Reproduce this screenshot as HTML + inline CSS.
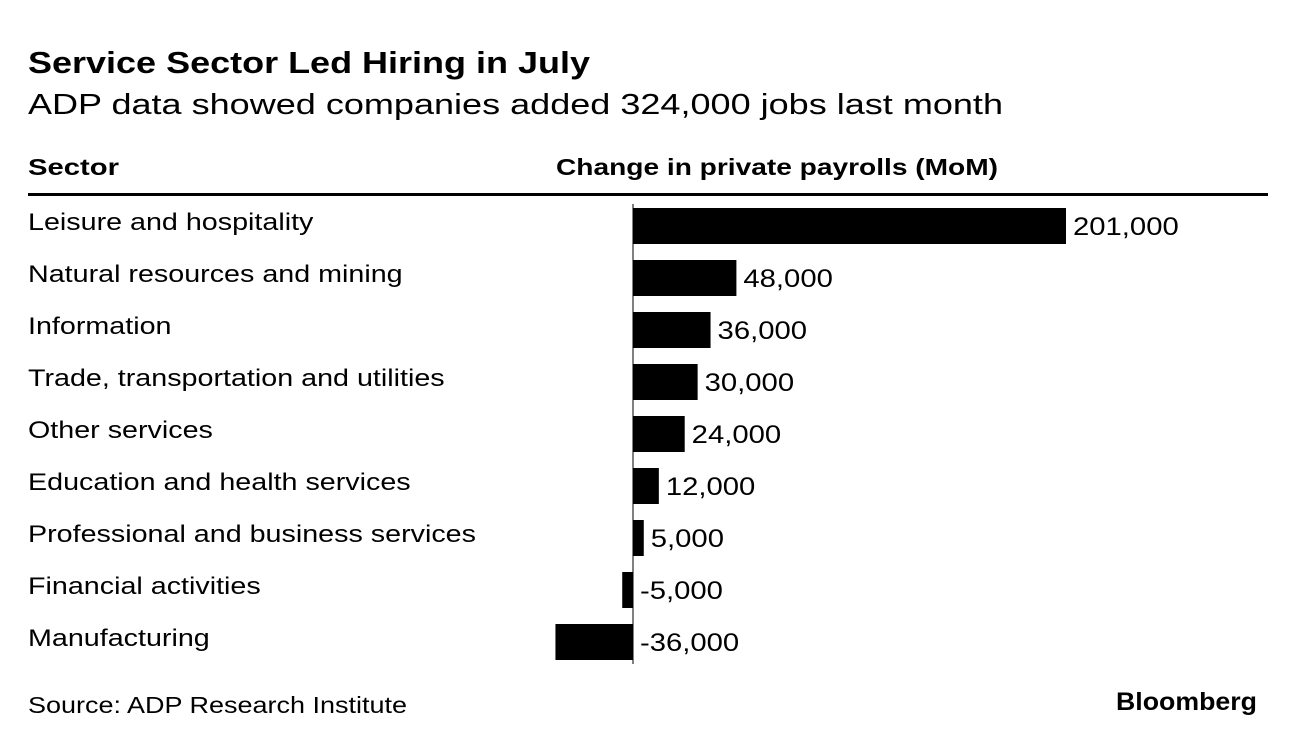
<!DOCTYPE html>
<html><head><meta charset="utf-8">
<style>
body{margin:0;background:#fff;width:1296px;height:746px;overflow:hidden;font-family:"Liberation Sans",Arial,sans-serif;color:#000}
</style></head><body>
<svg width="1296" height="746" xmlns="http://www.w3.org/2000/svg" font-family="Liberation Sans, Arial, sans-serif">
<text x="28" y="73" font-size="31" font-weight="bold" textLength="562" lengthAdjust="spacingAndGlyphs">Service Sector Led Hiring in July</text>
<text x="28" y="114" font-size="29" textLength="975" lengthAdjust="spacingAndGlyphs">ADP data showed companies added 324,000 jobs last month</text>
<text x="28" y="175" font-size="23" font-weight="bold" textLength="91" lengthAdjust="spacingAndGlyphs">Sector</text>
<text x="556" y="175" font-size="23" font-weight="bold" textLength="442" lengthAdjust="spacingAndGlyphs">Change in private payrolls (MoM)</text>
<rect x="28" y="193" width="1240" height="3" fill="#000"/>
<g id="bars"></g>
<line x1="633" y1="204" x2="633" y2="664" stroke="#000" stroke-width="1"/>
<text x="28" y="713" font-size="23" textLength="379" lengthAdjust="spacingAndGlyphs">Source: ADP Research Institute</text>
<text x="1257" y="710" font-size="25" font-weight="bold" text-anchor="end" textLength="141" lengthAdjust="spacingAndGlyphs">Bloomberg</text>
</svg>
<script>
const categories=["Leisure and hospitality","Natural resources and mining","Information","Trade, transportation and utilities","Other services","Education and health services","Professional and business services","Financial activities","Manufacturing"];
const values=[201000,48000,36000,30000,24000,12000,5000,-5000,-36000];
const valueLabels=["201,000","48,000","36,000","30,000","24,000","12,000","5,000","-5,000","-36,000"];
const x0=633, scale=433/201000;
const xs=v=>x0+v*scale;
const ys=i=>208+i*52;
const g=document.getElementById('bars');
const NS="http://www.w3.org/2000/svg";
function stretch(t,k){const w=t.getComputedTextLength();t.setAttribute('textLength',w*k);t.setAttribute('lengthAdjust','spacingAndGlyphs');}
categories.forEach((c,i)=>{
  const v=values[i];
  const t=document.createElementNS(NS,'text');
  t.setAttribute('x',28);t.setAttribute('y',ys(i)+22);t.setAttribute('font-size',24);
  t.textContent=c;
  
  
  g.appendChild(t);
  stretch(t,1.195);
  const r=document.createElementNS(NS,'rect');
  const a=xs(Math.min(0,v)),b=xs(Math.max(0,v));
  r.setAttribute('x',a);r.setAttribute('y',ys(i));r.setAttribute('width',b-a);r.setAttribute('height',36);r.setAttribute('fill','#000');
  
  
  g.appendChild(r);
  const l=document.createElementNS(NS,'text');
  l.setAttribute('x',(v>=0?xs(v):x0)+7);l.setAttribute('y',ys(i)+27);l.setAttribute('font-size',25);
  l.textContent=valueLabels[i];
  
  
  g.appendChild(l);
  stretch(l,1.17);
});
</script>
</body></html>
